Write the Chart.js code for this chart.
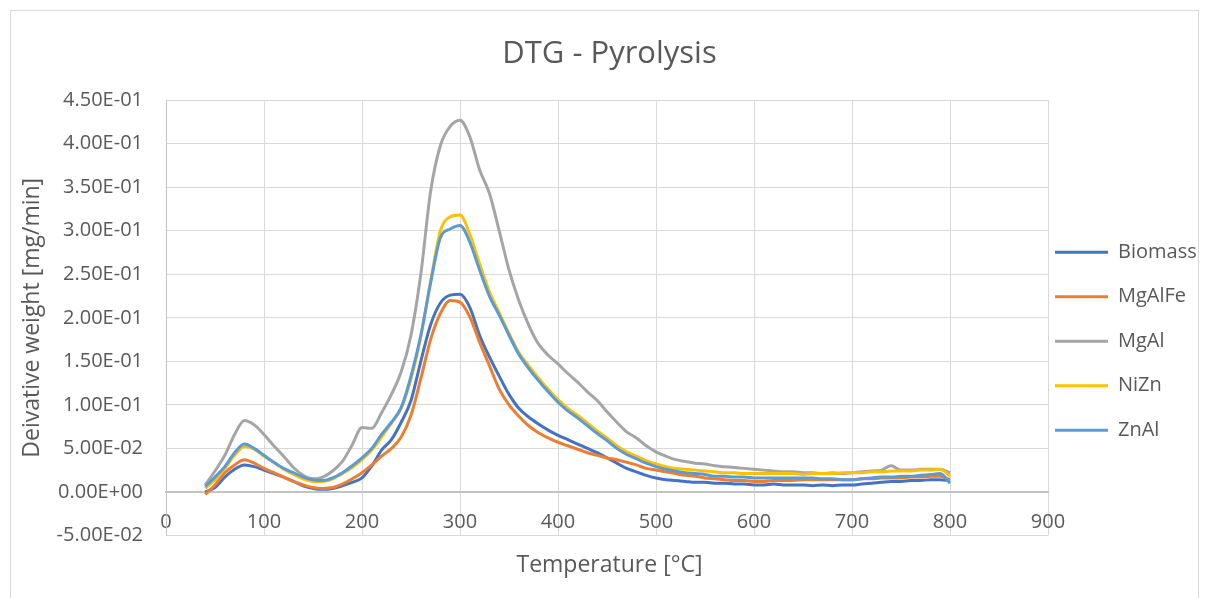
<!DOCTYPE html>
<html>
<head>
<meta charset="utf-8">
<script src="https://cdn.jsdelivr.net/npm/chart.js@4/dist/chart.umd.min.js"></script>
<style>
body{margin:0;background:#fff;}
#frame{position:absolute;left:10px;top:10px;width:1189px;height:600px;border:1px solid #d9d9d9;box-sizing:border-box;}
#chartDTG{position:absolute;left:0;top:0;}
</style>
</head>
<body>
<div id="frame"></div>
<canvas id="chartDTG" width="1209" height="598"></canvas>
<script>

// temperature [°C]
const temps=[40,50,60,70,80,90,100,
110,120,130,140,150,160,170,180,190,200,
210,220,230,240,250,260,270,280,290,300,
310,320,330,340,350,360,370,380,390,400,
410,420,430,440,450,460,470,480,490,500,
510,520,530,540,550,560,570,580,590,600,
610,620,630,640,650,660,670,680,690,700,
710,720,730,740,750,760,770,780,790,800];

const seriesNames=["Biomass","MgAlFe","MgAl","NiZn","ZnAl"];

const biomass=[0.000,0.005,0.017,0.026,0.031,0.029,0.025,
0.021,0.017,0.012,0.007,0.004,0.003,0.004,0.007,0.011,0.016,
0.030,0.048,0.060,0.080,0.105,0.150,0.192,0.217,0.226,0.227,
0.212,0.180,0.155,0.133,0.112,0.096,0.086,0.078,0.071,0.065,
0.060,0.055,0.050,0.045,0.039,0.033,0.027,0.023,0.019,0.016,
0.014,0.013,0.012,0.011,0.011,0.010,0.010,0.009,0.009,0.008,
0.008,0.009,0.008,0.008,0.008,0.007,0.008,0.007,0.008,0.008,
0.009,0.010,0.011,0.012,0.012,0.013,0.013,0.014,0.014,0.013];

const mgAlFe=[-0.003,0.008,0.022,0.031,0.037,0.033,0.027,
0.022,0.017,0.012,0.008,0.005,0.004,0.005,0.009,0.015,0.022,
0.031,0.041,0.050,0.063,0.088,0.130,0.175,0.205,0.220,0.218,
0.201,0.172,0.145,0.118,0.100,0.087,0.076,0.068,0.062,0.057,
0.053,0.049,0.045,0.042,0.039,0.037,0.034,0.031,0.027,0.025,
0.023,0.021,0.019,0.018,0.016,0.015,0.014,0.013,0.013,0.012,
0.012,0.013,0.013,0.013,0.014,0.014,0.014,0.014,0.014,0.014,
0.015,0.015,0.016,0.016,0.016,0.017,0.017,0.018,0.018,0.014];

const mgAl=[0.008,0.024,0.042,0.066,0.082,0.077,0.066,
0.053,0.041,0.028,0.019,0.015,0.017,0.024,0.035,0.054,0.074,
0.073,0.091,0.112,0.138,0.180,0.250,0.345,0.398,0.420,0.427,
0.408,0.370,0.343,0.300,0.255,0.220,0.192,0.170,0.157,0.147,
0.136,0.126,0.115,0.105,0.092,0.080,0.069,0.062,0.053,0.046,
0.041,0.037,0.035,0.033,0.032,0.030,0.029,0.028,0.027,0.026,
0.025,0.024,0.023,0.023,0.022,0.022,0.021,0.022,0.021,0.022,
0.023,0.024,0.025,0.030,0.025,0.025,0.026,0.026,0.026,0.022];

const niZn=[0.004,0.014,0.027,0.042,0.052,0.049,0.041,
0.034,0.026,0.020,0.015,0.012,0.012,0.015,0.021,0.028,0.037,
0.048,0.063,0.079,0.096,0.130,0.178,0.242,0.300,0.316,0.318,
0.296,0.262,0.230,0.206,0.182,0.160,0.145,0.131,0.118,0.106,
0.096,0.088,0.079,0.070,0.062,0.053,0.046,0.041,0.036,0.032,
0.029,0.027,0.026,0.025,0.024,0.023,0.022,0.022,0.021,0.021,
0.021,0.021,0.021,0.021,0.020,0.021,0.021,0.021,0.022,0.022,
0.022,0.023,0.023,0.024,0.024,0.024,0.025,0.025,0.026,0.018];

const znAl=[0.006,0.017,0.029,0.045,0.055,0.050,0.042,
0.034,0.027,0.022,0.017,0.014,0.013,0.016,0.022,0.030,0.039,
0.050,0.066,0.080,0.097,0.133,0.180,0.240,0.292,0.302,0.306,
0.287,0.255,0.225,0.203,0.180,0.158,0.142,0.128,0.115,0.103,
0.093,0.085,0.076,0.067,0.059,0.050,0.043,0.038,0.033,0.029,
0.026,0.024,0.022,0.021,0.020,0.018,0.018,0.017,0.017,0.016,
0.016,0.016,0.016,0.016,0.016,0.016,0.015,0.015,0.014,0.014,
0.015,0.016,0.017,0.017,0.018,0.018,0.019,0.020,0.021,0.010];

const colors=["#4472C4","#ED7D31","#A5A5A5","#FFC000","#5B9BD5"];
const values=[biomass,mgAlFe,mgAl,niZn,znAl];

function sci(v){
if(Math.abs(v)<1e-12) return "0.00E+00";
let e=Math.floor(Math.log10(Math.abs(v)));
let m=v/Math.pow(10,e);
if(Math.abs(m)>=9.995){m/=10;e+=1;}
return m.toFixed(2)+"E"+(e<0?"-":"+")+String(Math.abs(e)).padStart(2,"0");
}

// Excel draws the last series on top; Chart.js draws the first on top
let datasets=[];
for(let i=seriesNames.length-1;i>=0;i--){
datasets.push({
label:seriesNames[i],
data:temps.map((t,j)=>({x:t,y:values[i][j]})),
borderColor:colors[i],
backgroundColor:colors[i],
borderWidth:3,
pointRadius:0,
cubicInterpolationMode:"monotone",
fill:false
});
}

const textColor="#595959";
Chart.defaults.font.family="'Open Sans','Noto Sans',sans-serif";
Chart.defaults.color=textColor;

const legendPlace={
id:"legendPlace",
beforeDraw(chart){
const lg=chart.legend;
const pad=lg.options.labels.padding;
lg.left=chart.chartArea.right+7-pad;
lg.top=chart.chartArea.top+142-pad;
}
};

new Chart(document.getElementById("chartDTG"),{
type:"line",
data:{datasets},
plugins:[legendPlace],
options:{
responsive:false,
animation:false,
devicePixelRatio:1,
layout:{padding:{left:10,right:0,top:10,bottom:0}},
plugins:{
title:{
display:true,
text:"DTG - Pyrolysis",
color:textColor,
font:{size:31,weight:"normal"},
padding:{top:26,bottom:27}
},
subtitle:{
display:true,
position:"bottom",
text:"Temperature [°C]",
color:textColor,
font:{size:23,weight:"normal"},
padding:{top:16,bottom:19}
},
legend:{
position:"right",
align:"start",
reverse:true,
maxWidth:161,
labels:{
usePointStyle:true,
pointStyle:"line",
pointStyleWidth:53,
padding:24.5,
color:textColor,
font:{size:20}
}
},
tooltip:{enabled:false}
},
scales:{
x:{
type:"linear",
position:{y:0},
min:0,
max:900,
grid:{color:"#d9d9d9",lineWidth:1,drawTicks:false},
border:{color:"#c4c4c4",width:2},
ticks:{stepSize:100,padding:18,autoSkip:false,maxRotation:0,color:textColor,font:{size:20}}
},
y:{
min:-0.05,
max:0.45,
grid:{color:"#d9d9d9",lineWidth:1,drawTicks:false},
border:{color:"#c4c4c4",width:1},
ticks:{stepSize:0.05,padding:23,color:textColor,font:{size:20},callback:(v)=>sci(v)},
title:{display:true,text:"Deivative weight [mg/min]",color:textColor,font:{size:23},padding:{top:9,bottom:0}},
afterFit(scale){scale.width=156;}
}
}
}
});

</script>
</body>
</html>
